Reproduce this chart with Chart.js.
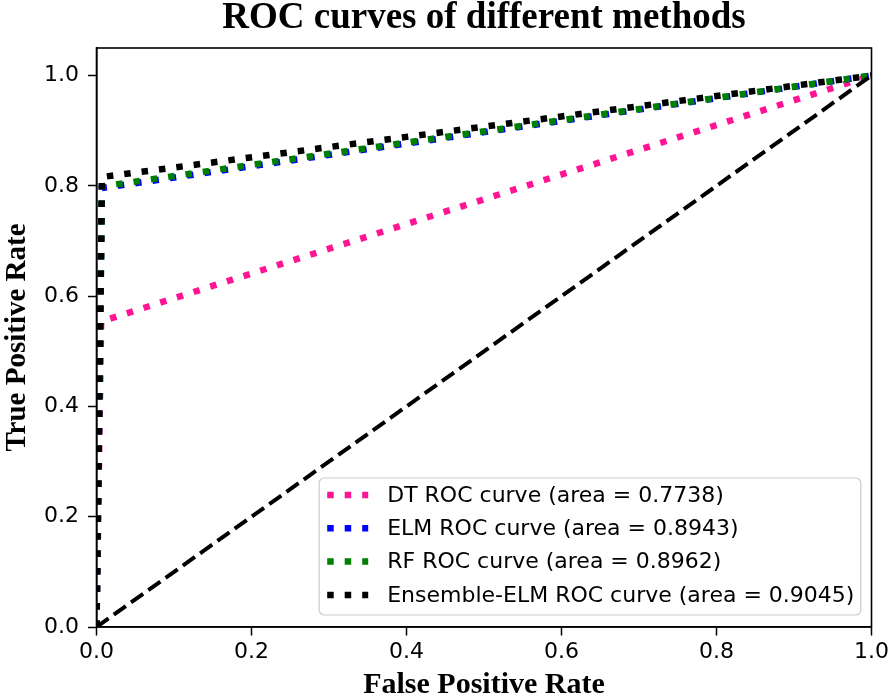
<!DOCTYPE html>
<html>
<head>
<meta charset="utf-8">
<script src="https://cdn.jsdelivr.net/npm/chart.js@4.4.0/dist/chart.umd.min.js"></script>
<style>
html, body { margin: 0; padding: 0; background: #ffffff; }
#wrap { width: 893px; height: 698px; }
</style>
</head>
<body>
<div id="wrap"><canvas id="c" width="893" height="698"></canvas></div>
<script>
// ---- data ----
const chartTitle = 'ROC curves of different methods';
const xAxisTitle = 'False Positive Rate';
const yAxisTitle = 'True Positive Rate';
const xTicks = [0.0, 0.2, 0.4, 0.6, 0.8, 1.0];
const yTicks = [0.0, 0.2, 0.4, 0.6, 0.8, 1.0];
const seriesLabels = [
  'DT ROC curve (area = 0.7738)',
  'ELM ROC curve (area = 0.8943)',
  'RF ROC curve (area = 0.8962)',
  'Ensemble-ELM ROC curve (area = 0.9045)'
];
const seriesColors = ['#ff1493', '#0000ff', '#008000', '#000000'];
const dtFpr  = [0, 0.006, 1];
const dtTpr  = [0, 0.554, 1];
const elmFpr = [0, 0.007, 1];
const elmTpr = [0, 0.796, 1];
const rfFpr  = [0, 0.007, 1];
const rfTpr  = [0, 0.799, 1];
const ensFpr = [0, 0.007, 1];
const ensTpr = [0, 0.816, 1];
const chanceFpr = [0, 1];
const chanceTpr = [0, 1];

const seriesFpr = [dtFpr, elmFpr, rfFpr, ensFpr];
const seriesTpr = [dtTpr, elmTpr, rfTpr, ensTpr];

function pts(xs, ys) { return xs.map((x, i) => ({ x: x, y: ys[i] })); }

const DOT_W = 6.5;
const DOT_DASH = [6.5, 11];

const datasets = seriesLabels.map((lab, i) => ({
  label: lab,
  data: pts(seriesFpr[i], seriesTpr[i]),
  borderColor: seriesColors[i],
  backgroundColor: seriesColors[i],
  borderWidth: DOT_W,
  borderDash: DOT_DASH,
  borderCapStyle: 'butt',
  pointRadius: 0,
  tension: 0,
  fill: false,
  order: 4 - i
}));
datasets.push({
  label: 'chance',
  data: pts(chanceFpr, chanceTpr),
  borderColor: '#000000',
  borderWidth: 4,
  borderDash: [14.8, 6.4],
  borderCapStyle: 'butt',
  pointRadius: 0,
  tension: 0,
  fill: false,
  order: 0
});

const SERIF = '"Liberation Serif", "Times New Roman", serif';
const SANS = '"DejaVu Sans", sans-serif';

const decorPlugin = {
  id: 'decor',
  afterDatasetsDraw(chart) {
    const { ctx, chartArea: a } = chart;
    ctx.save();
    // axes frame
    ctx.strokeStyle = '#000';
    ctx.lineWidth = 1.6;
    ctx.strokeRect(a.left, a.top, a.right - a.left, a.bottom - a.top);

    // legend
    const rowH = 33.3;
    const boxH = 137;
    const boxW = 541.6;
    const bx = a.right - 10.7 - boxW;
    const by = a.bottom - 12 - boxH;
    ctx.beginPath();
    if (ctx.roundRect) ctx.roundRect(bx, by, boxW, boxH, 5); else ctx.rect(bx, by, boxW, boxH);
    ctx.fillStyle = 'rgba(255,255,255,0.8)';
    ctx.fill();
    ctx.strokeStyle = '#cccccc';
    ctx.lineWidth = 1.2;
    ctx.stroke();
    ctx.font = '22px ' + SANS;
    ctx.textBaseline = 'middle';
    ctx.textAlign = 'left';
    seriesLabels.forEach((lab, i) => {
      const cy = by + 17 + i * rowH;
      ctx.beginPath();
      ctx.setLineDash(DOT_DASH);
      ctx.lineCap = 'butt';
      ctx.lineWidth = DOT_W;
      ctx.strokeStyle = seriesColors[i];
      ctx.moveTo(bx + 8, cy);
      ctx.lineTo(bx + 49, cy);
      ctx.stroke();
      ctx.setLineDash([]);
      ctx.fillStyle = '#000';
      ctx.fillText(lab, bx + 68, cy + 1);
    });
    ctx.restore();
  },
  afterDraw(chart) {
    const { ctx, chartArea: a } = chart;
    ctx.save();
    ctx.font = 'bold 37px ' + SERIF;
    ctx.fillStyle = '#000';
    ctx.textAlign = 'center';
    ctx.textBaseline = 'alphabetic';
    ctx.fillText(chartTitle, (a.left + a.right) / 2, 28);
    ctx.restore();
  }
};

new Chart(document.getElementById('c'), {
  type: 'line',
  data: { datasets: datasets },
  options: {
    responsive: false,
    animation: false,
    devicePixelRatio: 1,
    layout: { padding: { top: 48, right: 18, left: 0, bottom: 0 } },
    plugins: {
      legend: { display: false },
      title: { display: false },
      tooltip: { enabled: false }
    },
    scales: {
      x: {
        type: 'linear',
        min: 0,
        max: 1,
        afterFit: s => { s.height = 71; },
        afterBuildTicks: s => { s.ticks = xTicks.map(v => ({ value: v })); },
        grid: { drawOnChartArea: false, drawTicks: true, tickLength: 8.5, tickWidth: 1.5, tickColor: '#000' },
        border: { display: true, color: '#000', width: 1.6 },
        ticks: {
          color: '#000',
          font: { family: SANS, size: 22 },
          padding: 4,
          maxRotation: 0,
          callback: v => Number(v).toFixed(1)
        },
        title: {
          display: true,
          text: xAxisTitle,
          color: '#000',
          font: { family: SERIF, size: 30, weight: 'bold', lineHeight: 0.86 },
          padding: { top: 0, bottom: 0 }
        }
      },
      y: {
        type: 'linear',
        min: 0,
        max: 1.05,
        afterFit: s => { s.width = 96.5; },
        afterBuildTicks: s => { s.ticks = yTicks.map(v => ({ value: v })); },
        grid: { drawOnChartArea: false, drawTicks: true, tickLength: 8.5, tickWidth: 1.5, tickColor: '#000' },
        border: { display: true, color: '#000', width: 1.6 },
        ticks: {
          color: '#000',
          font: { family: SANS, size: 22 },
          padding: 9,
          callback: v => Number(v).toFixed(1)
        },
        title: {
          display: true,
          text: yAxisTitle,
          color: '#000',
          font: { family: SERIF, size: 29, weight: 'bold', lineHeight: 1.2 },
          padding: { top: 0, bottom: 0 }
        }
      }
    }
  },
  plugins: [decorPlugin]
});
</script>
</body>
</html>
